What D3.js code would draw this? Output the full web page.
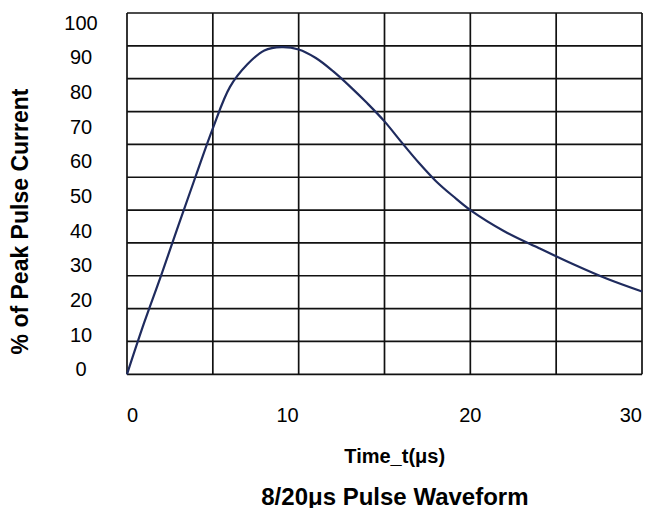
<!DOCTYPE html>
<html>
<head>
<meta charset="utf-8">
<script src="https://cdn.jsdelivr.net/npm/d3@7"></script>
<style>
html,body{margin:0;padding:0;background:#fff;}
svg{display:block;}
text{font-family:"Liberation Sans",Arial,sans-serif;fill:#000;}
</style>
</head>
<body>
<svg id="chart" width="646" height="508"></svg>
<script>
// ---- data ----
const timeUs   = [0, 1, 2, 3, 4, 5, 6, 7, 8, 9, 10, 11, 12, 13, 14, 15, 16, 17, 18, 19, 20, 22, 24, 26, 28, 30];
const pctPeak  = [0, 15.7, 30.3, 45.4, 60.3, 74.9, 87.5, 94.3, 98.6, 99.6, 98.9, 96.3, 92.3, 87.6, 82.5, 77.0, 70.6, 64.4, 58.8, 54.2, 50.0, 43.5, 38.4, 33.5, 29.0, 25.2];
const xGrid    = [0, 5, 10, 15, 20, 25, 30];
const yGrid    = [0, 10, 20, 30, 40, 50, 60, 70, 80, 90, 100, 110];
const xTickLabels = [0, 10, 20, 30];
const yTickLabels = [0, 10, 20, 30, 40, 50, 60, 70, 80, 90, 100];
const xTitle = "Time_t(μs)";
const yTitle = "% of Peak Pulse Current";
const chartTitle = "8/20μs Pulse Waveform";

// ---- layout / style ----
const xTickAnchor = ["start", "end", "middle", "end"];
const plot = {left: 127, right: 642, top: 13, bottom: 374.3};
const svg = d3.select("#chart");

const x = d3.scaleLinear().domain([0, 30]).range([plot.left, plot.right]);
const y = d3.scaleLinear().domain([0, 110]).range([plot.bottom, plot.top]);
const yLab = d3.scaleLinear().domain([0, 100]).range([369.3, 22.7]);

// grid
const g = svg.append("g");
g.selectAll("line.h").data(yGrid).join("line")
  .attr("class","h")
  .attr("x1", plot.left).attr("x2", plot.right)
  .attr("y1", d => y(d)).attr("y2", d => y(d))
  .attr("stroke", "#111").attr("stroke-width", 1.7);
g.selectAll("line.v").data(xGrid).join("line")
  .attr("class","v")
  .attr("y1", plot.top).attr("y2", plot.bottom)
  .attr("x1", d => x(d)).attr("x2", d => x(d))
  .attr("stroke", "#111").attr("stroke-width", 1.7);

// curve
const pts = timeUs.map((t, i) => [t, pctPeak[i]]);
svg.append("path").datum(pts)
  .attr("fill", "none").attr("stroke", "#1f2b5e").attr("stroke-width", 2.2)
  .attr("d", d3.line().x(d => x(d[0])).y(d => y(d[1])).curve(d3.curveCatmullRom.alpha(0.5)));

// x tick labels
svg.selectAll("text.xt").data(xTickLabels).join("text")
  .attr("class","xt")
  .attr("x", d => x(d)).attr("y", 422.3)
  .attr("text-anchor", (d, i) => xTickAnchor[i])
  .attr("font-size", 20)
  .text(d => d);

// y tick labels
svg.selectAll("text.yt").data(yTickLabels).join("text")
  .attr("class","yt")
  .attr("x", 81).attr("y", d => yLab(d) + 7)
  .attr("text-anchor", "middle")
  .attr("font-size", 20)
  .text(d => d);

// axis titles
svg.append("text").attr("x", 394.7).attr("y", 462.7)
  .attr("text-anchor","middle").attr("font-size", 20).attr("font-weight","bold")
  .text(xTitle);
svg.append("text").attr("transform","translate(28,221.5) rotate(-90)")
  .attr("text-anchor","middle").attr("font-size", 23).attr("font-weight","bold")
  .text(yTitle);
svg.append("text").attr("x", 394.9).attr("y", 504.5)
  .attr("text-anchor","middle").attr("font-size", 24).attr("font-weight","bold")
  .text(chartTitle);
</script>
</body>
</html>
